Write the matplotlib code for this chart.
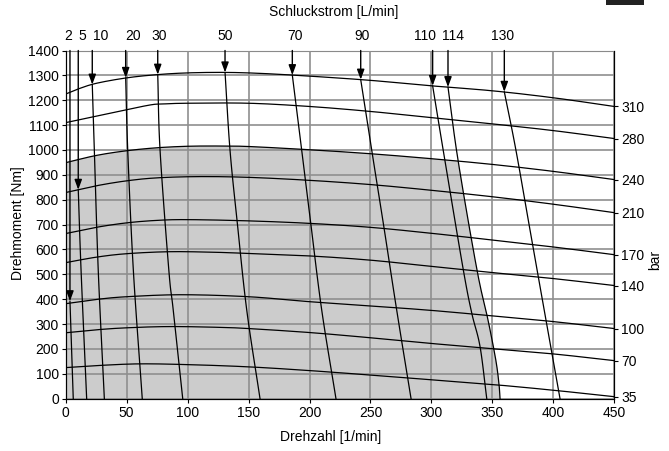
import numpy as np
import matplotlib.pyplot as plt
from matplotlib.patches import Rectangle

plt.rcParams['font.family'] = ['Liberation Sans', 'DejaVu Sans']
plt.rcParams['font.size'] = 10

# pressure curves (bar): torque [Nm] over speed [1/min]
p310_rpm = [0, 10, 25, 50, 75, 100, 130, 160, 200, 250, 300, 350, 400, 450]
p310_nm = [1225, 1245, 1268, 1290, 1303, 1310, 1312, 1308, 1297, 1280, 1258, 1238, 1210, 1175]
p280_rpm = [0, 35, 68, 80, 100, 150, 200, 250, 300, 350, 400, 450]
p280_nm = [1110, 1146, 1180, 1185, 1188, 1188, 1175, 1155, 1130, 1105, 1078, 1046]
p240_rpm = [0, 25, 50, 75, 100, 125, 150, 200, 250, 300, 350, 400, 450]
p240_nm = [949, 978, 997, 1009, 1015, 1016, 1014, 1001, 985, 965, 942, 914, 881]
p210_rpm = [0, 25, 50, 75, 110, 150, 200, 250, 300, 350, 400, 450]
p210_nm = [829, 856, 876, 888, 893, 890, 878, 861, 838, 812, 782, 748]
p170_rpm = [0, 25, 50, 75, 100, 150, 200, 250, 300, 350, 400, 450]
p170_nm = [664, 689, 707, 717, 720, 715, 705, 689, 665, 638, 610, 579]
p140_rpm = [0, 25, 50, 85, 120, 150, 200, 250, 300, 350, 400, 450]
p140_nm = [547, 569, 583, 591, 589, 584, 574, 557, 532, 507, 483, 455]
p100_rpm = [0, 25, 50, 95, 150, 200, 250, 300, 350, 400, 450]
p100_nm = [382, 399, 410, 418, 410, 390, 373, 355, 333, 310, 282]
p70_rpm = [0, 25, 50, 85, 125, 150, 200, 250, 300, 350, 400, 450]
p70_nm = [265, 277, 285, 290, 287, 282, 266, 245, 222, 201, 180, 153]
p35_rpm = [0, 25, 60, 100, 150, 200, 250, 300, 350, 400, 450]
p35_nm = [125, 133, 140, 137, 128, 113, 95, 76, 57, 34, 8]

bar_labels = ["310", "280", "240", "210", "170", "140", "100", "70", "35"]
bar_curves = [(p310_rpm, p310_nm), (p280_rpm, p280_nm), (p240_rpm, p240_nm),
              (p210_rpm, p210_nm), (p170_rpm, p170_nm), (p140_rpm, p140_nm),
              (p100_rpm, p100_nm), (p70_rpm, p70_nm), (p35_rpm, p35_nm)]

# flow lines (L/min): speed at given torque, from top point down to 0 Nm
q2_nm, q2_rpm = [392, 0], [3.5, 6.2]
q5_nm, q5_rpm = [840, 517, 0], [10.3, 12.6, 17.2]
q10_nm, q10_rpm = [1263, 998, 516, 0], [21.8, 23.5, 26.7, 31.7]
q20_nm, q20_rpm = [1290, 998, 516, 0], [49.2, 50.9, 55.5, 62.8]
q30_nm, q30_rpm = [1303, 1000, 517, 357, 0], [75.5, 77.4, 84.6, 88.2, 96.0]
q50_nm, q50_rpm = [1312, 999, 705, 357, 0], [130.7, 134.8, 140.8, 148.5, 159.4]
q70_nm, q70_rpm = [1301, 999, 706, 357, 0], [185.9, 193.6, 201.0, 210.0, 221.7]
q90_nm, q90_rpm = [1283, 960, 678, 357, 0], [242.0, 252.3, 261.4, 271.5, 283.3]
q110_nm, q110_rpm = [1258, 960, 517, 344, 209, 0], [301.0, 311.0, 326.2, 333.1, 339.9, 345.4]
q114_nm, q114_rpm = [1253, 960, 517, 317, 156, 60, 0], [313.6, 321.8, 337.4, 346.4, 352.8, 355.4, 356.3]
q130_nm, q130_rpm = [1234, 1000, 678, 357, 0], [359.8, 369.3, 380.9, 392.5, 405.5]

flow_labels = ["2", "5", "10", "20", "30", "50", "70", "90", "110", "114", "130"]
flow_lines = [(q2_nm, q2_rpm), (q5_nm, q5_rpm), (q10_nm, q10_rpm), (q20_nm, q20_rpm),
              (q30_nm, q30_rpm), (q50_nm, q50_rpm), (q70_nm, q70_rpm), (q90_nm, q90_rpm),
              (q110_nm, q110_rpm), (q114_nm, q114_rpm), (q130_nm, q130_rpm)]
# label x positions (the labels are not all centred on their arrows)
flow_label_x = [2.3, 13.8, 28.5, 55.2, 76.5, 130.7, 187.7, 242.7, 294.7, 318.1, 358.7]


def smooth(u, v, n=25):
    # Catmull-Rom spline through the read-off points
    u = np.asarray(u, float)
    v = np.asarray(v, float)
    if len(u) < 3:
        return u, v
    pu = np.concatenate([[2 * u[0] - u[1]], u, [2 * u[-1] - u[-2]]])
    pv = np.concatenate([[2 * v[0] - v[1]], v, [2 * v[-1] - v[-2]]])
    s = np.linspace(0, 1, n, endpoint=False)
    out_u, out_v = [], []
    for i in range(1, len(pu) - 2):
        for p, out in ((pu, out_u), (pv, out_v)):
            p0, p1, p2, p3 = p[i - 1], p[i], p[i + 1], p[i + 2]
            out.extend(0.5 * (2 * p1 + (p2 - p0) * s + (2 * p0 - 5 * p1 + 4 * p2 - p3) * s ** 2
                              + (3 * p1 - p0 - 3 * p2 + p3) * s ** 3))
    out_u.append(u[-1])
    out_v.append(v[-1])
    return np.array(out_u), np.array(out_v)


fig = plt.figure(figsize=(6.69, 4.51), dpi=100)
ax = fig.add_axes([0.0982, 0.116, 0.82, 0.772])

# grey operating range: below 240 bar, left of the 114 L/min line
r240, t240 = smooth(p240_rpm, p240_nm)
t114, r114 = smooth(q114_nm, q114_rpm)
t_up, r_up = t114[::-1], r114[::-1]
tt = np.linspace(800, 1200, 4001)
diff = np.interp(np.interp(tt, t_up, r_up), r240, t240) - tt
t_int = tt[np.argmin(np.abs(diff))]
r_int = np.interp(t_int, t_up, r_up)
rr = np.linspace(0, r_int, 300)
tb = np.linspace(t_int, 0, 300)
poly_x = np.concatenate([[0], rr, np.interp(tb, t_up, r_up)])
poly_y = np.concatenate([[0], np.interp(rr, r240, t240), tb])
ax.fill(poly_x, poly_y, color="#cccccc", lw=0, zorder=1)

ax.set_axisbelow(False)
ax.grid(True, color="#8f8f8f", lw=1.2, zorder=1.5)

for rpm, nm in bar_curves:
    x, y = smooth(rpm, nm)
    ax.plot(x, y, color="black", lw=0.9, zorder=3)

for (nm, rpm), lab, lx in zip(flow_lines, flow_labels, flow_label_x):
    t, r = smooth(nm, rpm)
    ax.plot(r, t, color="black", lw=0.9, zorder=3)
    ax.annotate("", xy=(rpm[0], nm[0]), xytext=(rpm[0], 1400),
                arrowprops=dict(arrowstyle="-|>,head_length=0.6,head_width=0.22",
                                color="black", lw=1.0, shrinkA=0, shrinkB=0),
                zorder=4)
    ax.text(lx, 1.042, lab, transform=ax.get_xaxis_transform(),
            ha="center", va="center", fontsize=10)

ax.set_xlim(0, 450)
ax.set_ylim(0, 1400)
ax.set_xticks(np.arange(0, 451, 50))
ax.set_yticks(np.arange(0, 1401, 100))
ax.tick_params(direction="out", length=3, width=0.8, pad=2, labelsize=10)
for s in ["left", "bottom", "right"]:
    ax.spines[s].set_color("black")
ax.spines["top"].set_color("#777777")

ax2 = ax.twinx()
ax2.set_ylim(0, 1400)
ax2.set_yticks([c[1][-1] for c in bar_curves])
ax2.set_yticklabels(bar_labels)
ax2.tick_params(direction="out", length=3, width=0.8, pad=2, labelsize=10)
ax2.spines["top"].set_visible(False)

fig.text(0.499, 0.973, "Schluckstrom [L/min]", ha="center", va="center", fontsize=10)
fig.text(0.494, 0.031, "Drehzahl [1/min]", ha="center", va="center", fontsize=10)
fig.text(0.027, 0.505, "Drehmoment [Nm]", ha="center", va="center", rotation=90, fontsize=10)
fig.text(0.979, 0.424, "bar", ha="center", va="center", rotation=90, fontsize=10)
fig.patches.append(Rectangle((0.906, 0.989), 0.057, 0.011, transform=fig.transFigure,
                             color="#222222", lw=0))

fig.savefig("out.png", dpi=100)
